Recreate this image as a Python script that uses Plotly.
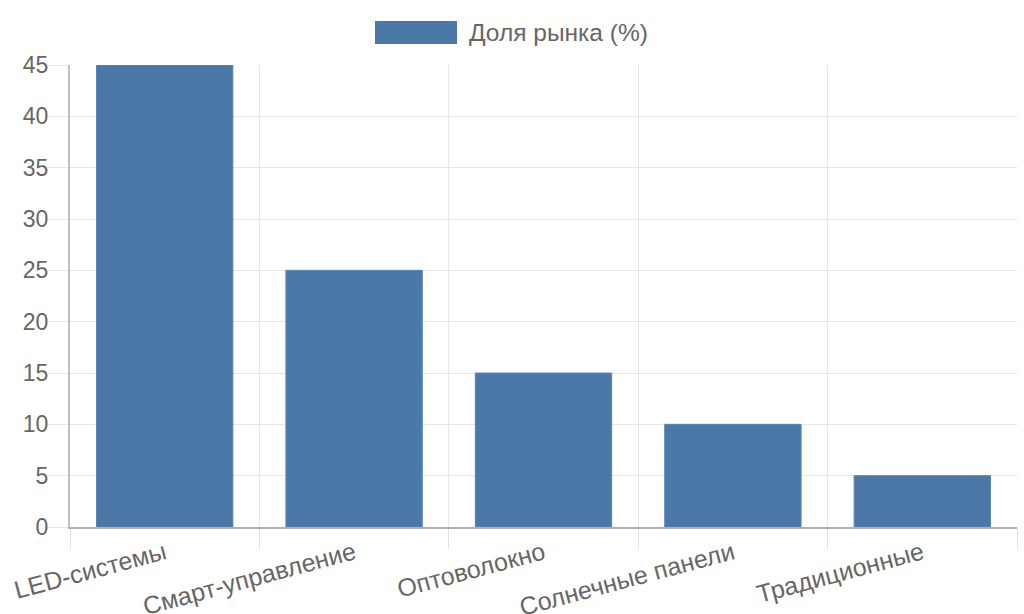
import plotly.graph_objects as go

categories = ["LED-системы", "Смарт-управление", "Оптоволокно", "Солнечные панели", "Традиционные"]
values = [45, 25, 15, 10, 5]
series_name = "Доля рынка (%)"

W, H = 1024, 614
L, R, T, B = 70, 1017, 65, 527

bar_color = "#4c78a8"
font_color = "#666666"
family = "Liberation Sans, Arial, sans-serif"

fig = go.Figure()
fig.add_trace(go.Bar(
    x=categories, y=values, name=series_name,
    marker=dict(color=bar_color, line=dict(color="#5a85b5", width=1)),
    width=0.72, showlegend=False,
))

def px_x(p):
    return (p - L) / (R - L)

def px_y(p):
    return (B - p) / (B - T)

# legend drawn as a box + text (Chart.js style)
fig.add_shape(type="rect", xref="paper", yref="paper",
              x0=px_x(375), x1=px_x(457), y0=px_y(44), y1=px_y(21),
              fillcolor=bar_color, line=dict(width=0))
fig.add_annotation(xref="paper", yref="paper", x=px_x(467), y=px_y(33),
                   text=series_name, showarrow=False, xanchor="left", yanchor="middle",
                   font=dict(family=family, size=24.5, color=font_color))

fig.update_layout(
    width=W, height=H,
    margin=dict(l=L, r=W - R, t=T, b=H - B, autoexpand=False),
    plot_bgcolor="white", paper_bgcolor="white",
    font=dict(family=family, color=font_color),
    bargap=0.28,
)
fig.update_xaxes(
    type="category", range=[-0.5, 4.5], tickson="boundaries", automargin=False,
    showgrid=True, gridcolor="#e6e6e6", gridwidth=1,
    ticks="outside", ticklen=20, tickcolor="#e0e0e0", tickwidth=1,
    showline=True, linecolor="#b0b0b0", linewidth=2,
    tickangle=-15, tickfont=dict(family=family, size=25, color=font_color),
)
fig.update_yaxes(
    range=[0, 45], dtick=5, tick0=0, automargin=False,
    showgrid=True, gridcolor="#e6e6e6", gridwidth=1,
    ticks="outside", ticklen=20, tickcolor="#e6e6e6", tickwidth=1,
    ticklabelstandoff=-5,
    showline=True, linecolor="#c0c0c0", linewidth=2, zeroline=False,
    tickfont=dict(family=family, size=23, color=font_color),
)

fig.write_html(
    "out.html",
    config={"displayModeBar": False},
    post_script="document.body.style.margin='0';document.body.style.overflow='hidden';",
)
